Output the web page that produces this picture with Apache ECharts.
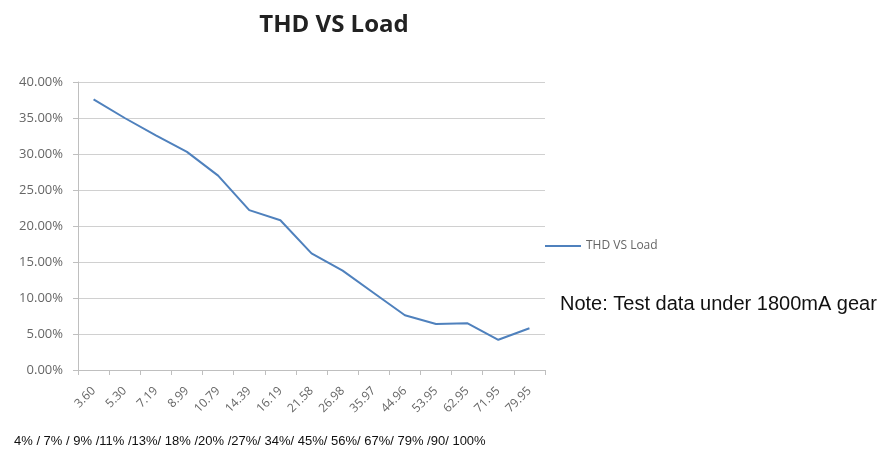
<!DOCTYPE html>
<html><head><meta charset="utf-8">
<script src="https://cdn.jsdelivr.net/npm/echarts@6/dist/echarts.min.js"></script>
<style>html,body{margin:0;padding:0;background:#fff}#c{width:879px;height:452px}</style>
</head><body><div id="c"></div>
<script>
const categories = ["3.60","5.30","7.19","8.99","10.79","14.39","16.19","21.58","26.98","35.97","44.96","53.95","62.95","71.95","79.95"];
const thdValues = [37.6,35.0,32.6,30.3,27.0,22.2,20.8,16.2,13.8,10.7,7.6,6.4,6.5,4.2,5.8];
const seriesName = "THD VS Load";
const titleText = "THD VS Load";
const noteText = "Note: Test data under 1800mA gear";
const loadText = "4% / 7% / 9% /11% /13%/ 18% /20% /27%/ 34%/ 45%/ 56%/ 67%/ 79% /90/ 100%";

const chart = echarts.init(document.getElementById('c'));
chart.setOption({
  animation: false,
  backgroundColor: '#fff',
  title: {
    text: titleText, left: 329, top: 8, textAlign: 'center',
    textStyle: { fontFamily: 'Open Sans', fontWeight: 'bold', fontSize: 24, color: '#222' }
  },
  legend: {
    data: [seriesName], left: 540, top: 235, itemWidth: 36, itemHeight: 2, itemGap: 2,
    icon: 'rect',
    textStyle: { fontFamily: 'Open Sans', fontSize: 12, color: '#666', padding: [0,0,0,0] }
  },
  grid: { left: 78, right: 334, top: 82, bottom: 82 },
  xAxis: {
    type: 'category', data: categories, boundaryGap: true,
    axisLine: { lineStyle: { color: '#bfbfbf' } },
    axisTick: { show: true, length: 5, lineStyle: { color: '#bfbfbf' } },
    axisLabel: { rotate: 45, fontFamily: 'Open Sans', fontSize: 12, color: '#666', margin: 19, interval: 0 }
  },
  yAxis: {
    type: 'value', min: 0, max: 40, interval: 5,
    axisLine: { show: true, lineStyle: { color: '#bfbfbf' } },
    axisTick: { show: true, length: 5, lineStyle: { color: '#bfbfbf' } },
    splitLine: { lineStyle: { color: '#d0d0d0', width: 1 } },
    axisLabel: { formatter: v => v.toFixed(2) + '%', fontFamily: 'Open Sans', fontSize: 13, color: '#666', margin: 15 }
  },
  series: [{
    name: seriesName, type: 'line', data: thdValues, symbol: 'none', smooth: false,
    lineStyle: { color: '#4f81bd', width: 2 }, itemStyle: { color: '#4f81bd' }
  }],
  graphic: [
    { type: 'text', left: 560, top: 294, style: { text: noteText, font: '20px "Liberation Sans", Arial', fill: '#111' } },
    { type: 'text', left: 14, top: 435, style: { text: loadText, font: '13px "Liberation Sans", Arial', fill: '#111' } }
  ]
});
</script></body></html>
